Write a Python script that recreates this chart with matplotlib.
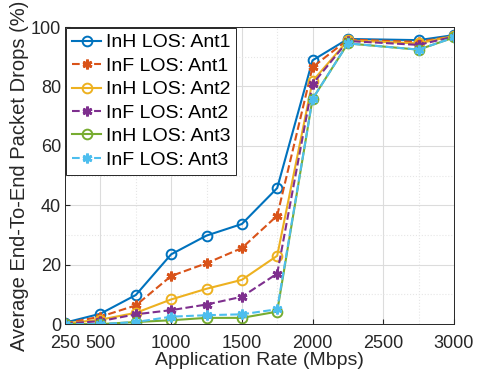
import matplotlib
matplotlib.use("Agg")
import matplotlib.pyplot as plt
from matplotlib.ticker import MultipleLocator

plt.rcParams['font.family'] = ['Liberation Sans', 'DejaVu Sans']

rates = [250, 500, 750, 1000, 1250, 1500, 1750, 2000, 2250, 2750, 3000]

inh_ant1 = [0.5, 3.5, 9.8, 23.5, 29.8, 33.7, 45.8, 88.8, 96.0, 95.6, 97.3]
inf_ant1 = [0.3, 2.5, 6.3, 16.2, 20.5, 25.6, 36.5, 86.5, 95.8, 95.0, 97.0]
inh_ant2 = [0.2, 1.5, 3.8, 8.3, 11.9, 14.9, 23.0, 81.8, 95.5, 94.5, 97.0]
inf_ant2 = [0.2, 1.0, 3.3, 4.7, 6.6, 9.2, 17.0, 80.8, 95.3, 94.0, 96.8]
inh_ant3 = [0.0, 0.0, 0.7, 1.3, 2.1, 2.1, 4.2, 75.8, 94.5, 92.4, 96.5]
inf_ant3 = [0.0, 0.0, 0.7, 2.5, 3.0, 3.3, 5.0, 75.8, 94.5, 92.4, 96.5]

series = [
    ("InH LOS: Ant1", inh_ant1, "#0072BD", "-", "o"),
    ("InF LOS: Ant1", inf_ant1, "#D95319", "--", "*"),
    ("InH LOS: Ant2", inh_ant2, "#EDB120", "-", "o"),
    ("InF LOS: Ant2", inf_ant2, "#7E2F8E", "--", "*"),
    ("InH LOS: Ant3", inh_ant3, "#77AC30", "-", "o"),
    ("InF LOS: Ant3", inf_ant3, "#4DBEEE", "--", "*"),
]

fig = plt.figure(figsize=(5.01, 3.76), dpi=100)
ax = fig.add_axes([0.130, 0.138, 0.776, 0.790])

for name, vals, col, ls, mk in series:
    if mk == "o":
        ax.plot(rates, vals, ls, color=col, marker="o", markersize=7,
                markerfacecolor="none", markeredgewidth=1.4, linewidth=1.5, label=name)
    else:
        # matlab style asterisk
        ax.plot(rates, vals, ls, color=col, marker=(6, 2, 0), markersize=7,
                markeredgewidth=2.0, linewidth=1.5, label=name)

ax.set_xlim(250, 3000)
ax.set_ylim(0, 100)
ax.set_xticks([250, 500, 1000, 1500, 2000, 2500, 3000])
ax.set_yticks([0, 20, 40, 60, 80, 100])
ax.xaxis.set_minor_locator(MultipleLocator(250))
ax.yaxis.set_minor_locator(MultipleLocator(10))
ax.tick_params(which="both", direction="in", labelsize=13, colors="#262626")
ax.tick_params(axis="x", pad=7.5)
ax.tick_params(axis="y", pad=3)
ax.tick_params(which="minor", length=0)
ax.grid(True, which="major", color="#dcdcdc", linewidth=0.8)
ax.grid(True, which="minor", color="#e6e6e6", linestyle=":", linewidth=0.8)
ax.set_axisbelow(True)
for s in ax.spines.values():
    s.set_color("#262626")
    s.set_linewidth(0.7)

ax.set_xlabel("Application Rate (Mbps)", fontsize=14, color="#262626", labelpad=0)
ax.set_ylabel("Average End-To-End Packet Drops (%)", fontsize=14.5, color="#262626", labelpad=1)

leg = ax.legend(loc="upper left", fontsize=14, frameon=True, fancybox=False,
                borderaxespad=0.05, handlelength=1.5, handletextpad=0.25,
                labelspacing=0.3, borderpad=0.3)
leg.get_frame().set_edgecolor("#262626")
leg.get_frame().set_linewidth(0.7)
leg.get_frame().set_alpha(1)

fig.savefig("out.png", dpi=100)
